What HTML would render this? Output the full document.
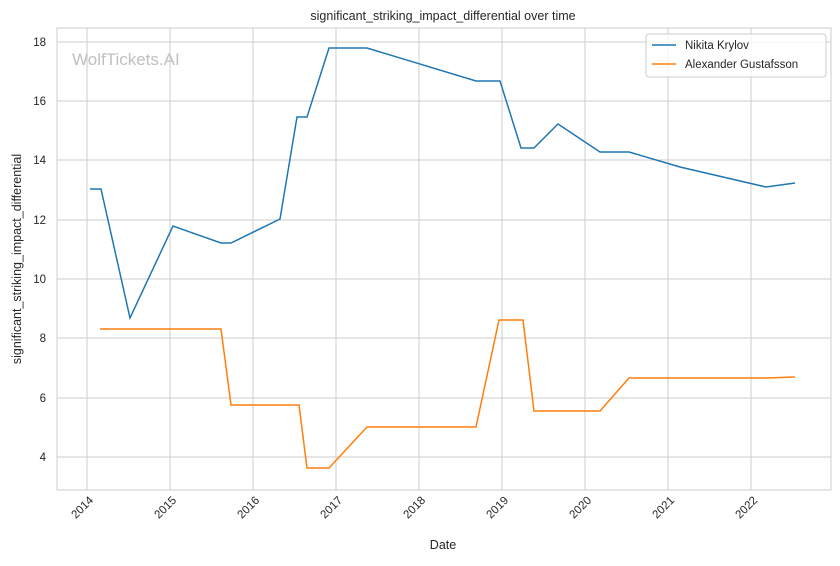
<!DOCTYPE html>
<html><head><meta charset="utf-8"><style>
body{margin:0;background:#fff;}
svg{font-family:"Liberation Sans","DejaVu Sans",sans-serif;}
</style></head><body>
<svg width="840" height="561" viewBox="0 0 840 561" xmlns="http://www.w3.org/2000/svg">
<rect width="840" height="561" fill="#fff"/>
<text x="443" y="20" font-size="12.5" text-anchor="middle" fill="#262626">significant_striking_impact_differential over time</text>
<g stroke="#cccccc" stroke-width="1">
<line x1="57" y1="42" x2="831" y2="42"/>
<line x1="57" y1="101" x2="831" y2="101"/>
<line x1="57" y1="160" x2="831" y2="160"/>
<line x1="57" y1="220" x2="831" y2="220"/>
<line x1="57" y1="279" x2="831" y2="279"/>
<line x1="57" y1="338" x2="831" y2="338"/>
<line x1="57" y1="398" x2="831" y2="398"/>
<line x1="57" y1="457" x2="831" y2="457"/>
<line x1="87" y1="28" x2="87" y2="490"/>
<line x1="170" y1="28" x2="170" y2="490"/>
<line x1="253" y1="28" x2="253" y2="490"/>
<line x1="336" y1="28" x2="336" y2="490"/>
<line x1="419" y1="28" x2="419" y2="490"/>
<line x1="502" y1="28" x2="502" y2="490"/>
<line x1="585" y1="28" x2="585" y2="490"/>
<line x1="668" y1="28" x2="668" y2="490"/>
<line x1="751" y1="28" x2="751" y2="490"/>
</g>
<rect x="57" y="28" width="774" height="462" fill="none" stroke="#cccccc" stroke-width="1"/>
<g font-size="11.5" fill="#262626" text-anchor="end">
<text x="46" y="46">18</text><text x="46" y="105">16</text><text x="46" y="164">14</text>
<text x="46" y="224">12</text><text x="46" y="283">10</text><text x="46" y="342">8</text>
<text x="46" y="402">6</text><text x="46" y="461">4</text>
</g>
<g font-size="11.5" fill="#262626" text-anchor="end">
<text transform="translate(94,501) rotate(-45)">2014</text>
<text transform="translate(177,501) rotate(-45)">2015</text>
<text transform="translate(260,501) rotate(-45)">2016</text>
<text transform="translate(343,501) rotate(-45)">2017</text>
<text transform="translate(426,501) rotate(-45)">2018</text>
<text transform="translate(509,501) rotate(-45)">2019</text>
<text transform="translate(592,501) rotate(-45)">2020</text>
<text transform="translate(675,501) rotate(-45)">2021</text>
<text transform="translate(758,501) rotate(-45)">2022</text>
</g>
<text x="443" y="549" font-size="12.5" text-anchor="middle" fill="#262626">Date</text>
<text transform="translate(21,259) rotate(-90)" font-size="12.5" text-anchor="middle" fill="#262626">significant_striking_impact_differential</text>
<text x="72" y="65" font-size="17" fill="#c0c0c0">WolfTickets.AI</text>
<polyline fill="none" stroke="#1f77b4" stroke-width="1.5" points="90,189 101,189 130,318 173,226 221,243 231,243 280,219 297,117 307,117 329,48 367,48 476,81 500,81 521,148 534,148 558,124 600,152 629,152 680,167 766,187 795,183"/>
<polyline fill="none" stroke="#ff7f0e" stroke-width="1.5" points="100,329 221,329 231,405 299,405 307,468 329,468 367,427 476,427 499,320 523,320 534,411 600,411 629,378 766,378 795,377"/>
<rect x="646" y="34" width="180" height="43" rx="3" fill="#fff" fill-opacity="0.8" stroke="#cccccc"/>
<line x1="652" y1="45" x2="676" y2="45" stroke="#1f77b4" stroke-width="1.5"/>
<text x="685" y="49" font-size="11.5" fill="#262626">Nikita Krylov</text>
<line x1="652" y1="64" x2="676" y2="64" stroke="#ff7f0e" stroke-width="1.5"/>
<text x="685" y="68" font-size="11.5" fill="#262626">Alexander Gustafsson</text>
</svg>
</body></html>
